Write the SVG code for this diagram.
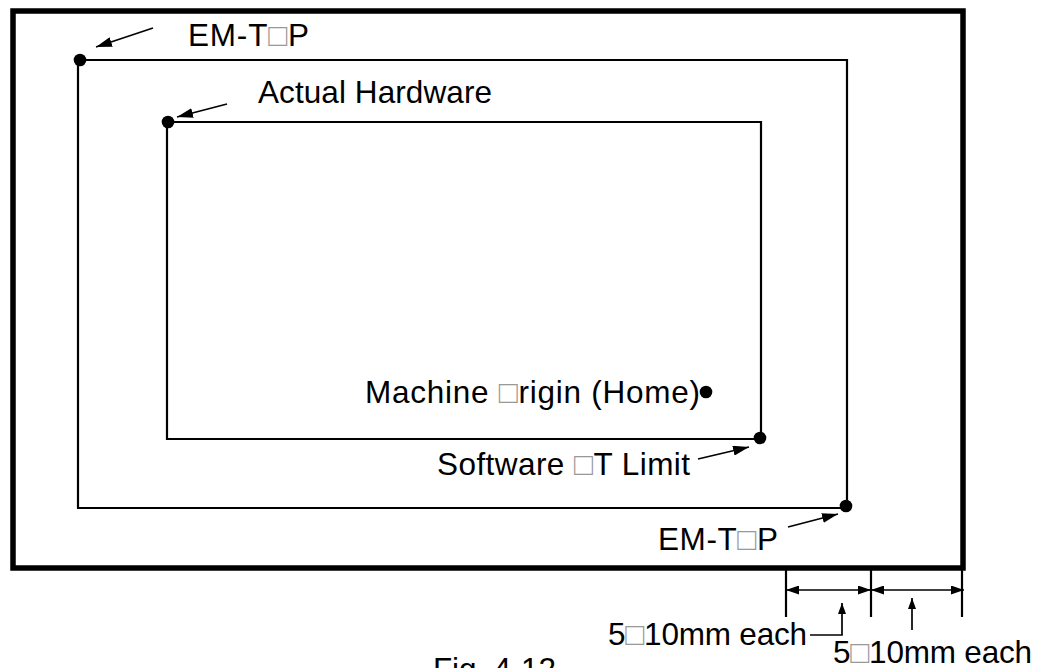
<svg xmlns="http://www.w3.org/2000/svg" width="1041" height="668" viewBox="0 0 1041 668">
<style>
.t{font-family:"Liberation Sans",Arial,sans-serif;font-size:31.5px;fill:#000}
.bx{fill:#999}
.ln{fill:none;stroke:#000;stroke-width:2.2}
.ar{fill:none;stroke:#000;stroke-width:1.7}
.dot{fill:#000}
</style>
<defs>
<marker id="ah" markerUnits="userSpaceOnUse" markerWidth="16" markerHeight="10" refX="16" refY="5" orient="auto"><path d="M0,0 L16,5 L0,10 z" fill="#000"/></marker>
<marker id="dm" markerUnits="userSpaceOnUse" markerWidth="13" markerHeight="9" refX="13" refY="4.5" orient="auto-start-reverse"><path d="M0,0 L13,4.5 L0,9 z" fill="#000"/></marker>
<marker id="up" markerUnits="userSpaceOnUse" markerWidth="11" markerHeight="8" refX="11" refY="4" orient="auto"><path d="M0,0 L11,4 L0,8 z" fill="#000"/></marker>
</defs>
<rect width="1041" height="668" fill="#fff"/>
<g id="frame"><rect x="13" y="11" width="950" height="557" fill="none" stroke="#000" stroke-width="5.5"/></g>
<g id="emstop-zone"><path class="ln" d="M78,60 H847 V508 H78 Z"/><circle class="dot" cx="80" cy="60" r="6.3"/><circle class="dot" cx="846" cy="506" r="6.3"/></g>
<g id="hardware-zone"><path class="ln" d="M167,122 H761 V439 H167 Z"/><circle class="dot" cx="168" cy="122" r="6.3"/><circle class="dot" cx="760" cy="438" r="6.3"/></g>
<g id="origin"><circle class="dot" cx="706" cy="392" r="6.3"/><text class="t" x="365" y="403" textLength="335" lengthAdjust="spacing">Machine <tspan class="bx">□</tspan>rigin (Home)</text></g>
<g id="label-emstop-top"><text class="t" x="188" y="46" textLength="121" lengthAdjust="spacing">EM-T<tspan class="bx">□</tspan>P</text></g>
<g id="label-hardware"><text class="t" x="258" y="103" textLength="234" lengthAdjust="spacing">Actual Hardware</text></g>
<g id="label-softlimit"><text class="t" x="437" y="475" textLength="253" lengthAdjust="spacing">Software <tspan class="bx">□</tspan>T Limit</text></g>
<g id="label-emstop-bottom"><text class="t" x="658" y="550" textLength="120" lengthAdjust="spacing">EM-T<tspan class="bx">□</tspan>P</text></g>
<g id="label-dim1"><text class="t" x="608" y="645" textLength="199" lengthAdjust="spacing">5<tspan class="bx">□</tspan>10mm each</text></g>
<g id="label-dim2"><text class="t" x="833" y="663" textLength="199" lengthAdjust="spacing">5<tspan class="bx">□</tspan>10mm each</text></g>
<g id="caption"><text class="t" x="433" y="680" textLength="123" lengthAdjust="spacing">Fig. 4-12</text></g>
<g id="connectors">
<line class="ar" x1="153" y1="28" x2="96" y2="47" marker-end="url(#ah)"/>
<line class="ar" x1="227" y1="104" x2="177" y2="117" marker-end="url(#ah)"/>
<line class="ar" x1="698" y1="459" x2="749" y2="447" marker-end="url(#ah)"/>
<line class="ar" x1="788" y1="527" x2="838" y2="514" marker-end="url(#ah)"/>
<line class="ln" x1="786" y1="570" x2="786" y2="617"/>
<line class="ln" x1="871" y1="570" x2="871" y2="617"/>
<line class="ln" x1="962" y1="570" x2="962" y2="617"/>
<line class="ar" x1="786" y1="590" x2="871" y2="590" marker-start="url(#dm)" marker-end="url(#dm)"/>
<line class="ar" x1="871" y1="590" x2="964" y2="590" marker-start="url(#dm)" marker-end="url(#dm)"/>
<polyline class="ar" points="810,635 842,635 842,603" marker-end="url(#up)"/>
<line class="ar" x1="912" y1="630" x2="912" y2="598" marker-end="url(#up)"/>
</g>
</svg>
